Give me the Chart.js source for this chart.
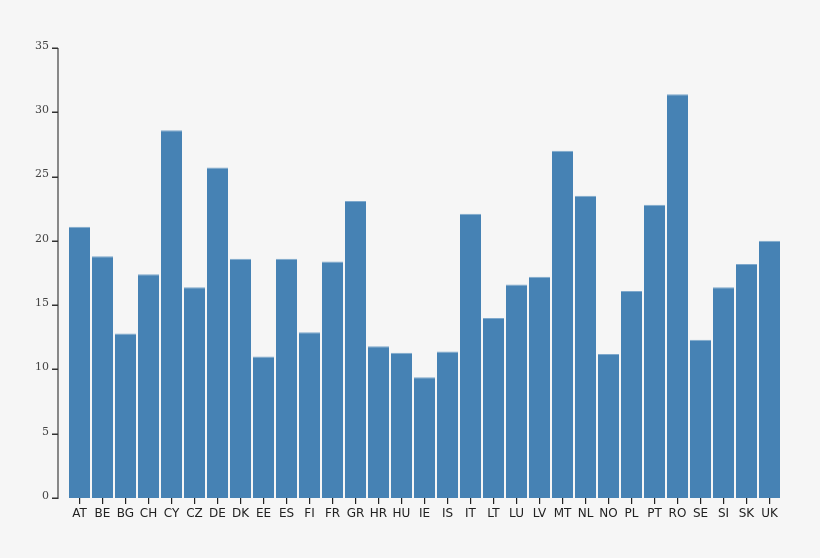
<!DOCTYPE html>
<html>
<head>
<meta charset="utf-8">
<script src="https://cdn.jsdelivr.net/npm/chart.js@4"></script>
<style>
  html, body { margin: 0; padding: 0; background: #f6f6f6; }
  #wrap { width: 820px; height: 558px; }
</style>
</head>
<body>
<div id="wrap"><canvas id="grafico" width="820" height="558"></canvas></div>
<script>
/* País e valor de cada barra */
const PAISES = ["AT", "BE", "BG", "CH", "CY", "CZ", "DE", "DK", "EE", "ES", "FI",
  "FR", "GR", "HR", "HU", "IE", "IS", "IT", "LT", "LU", "LV", "MT", "NL", "NO",
  "PL", "PT", "RO", "SE", "SI", "SK", "UK"];
const VALORES = [21.1, 18.8, 12.8, 17.4, 28.6, 16.4, 25.7, 18.6, 11.0, 18.6, 12.9,
  18.4, 23.1, 11.8, 11.3, 9.4, 11.4, 22.1, 14.0, 16.6, 17.2, 27.0, 23.5, 11.2,
  16.1, 22.8, 31.4, 12.3, 16.4, 18.2, 20.0];
const Y_TICKS = [0, 5, 10, 15, 20, 25, 30, 35];

const COR_BARRA = "#4682b4";

// eixo y desenhado à parte, um pouco afastado das barras
const eixoY = {
  id: "eixoY",
  afterDraw(chart) {
    const y = chart.scales.y;
    const ctx = chart.ctx;
    const x0 = chart.chartArea.left - 10;
    ctx.save();
    ctx.strokeStyle = "#888";
    ctx.lineWidth = 2;
    ctx.beginPath();
    ctx.moveTo(x0, y.getPixelForValue(35));
    ctx.lineTo(x0, y.getPixelForValue(0) + 1);
    ctx.stroke();
    ctx.strokeStyle = "#333";
    ctx.lineWidth = 1.5;
    Y_TICKS.forEach(v => {
      const py = Math.round(y.getPixelForValue(v)) + 0.25;
      ctx.beginPath();
      ctx.moveTo(x0 - 6, py);
      ctx.lineTo(x0, py);
      ctx.stroke();
    });
    ctx.restore();
  },
};

new Chart(document.getElementById("grafico"), {
  type: "bar",
  data: {
    labels: PAISES,
    datasets: [{
      data: VALORES,
      backgroundColor: COR_BARRA,
      borderColor: "#7ea8cc",
      borderWidth: { top: 1, left: 0, right: 0, bottom: 0 },
      borderSkipped: false,
      barPercentage: 21 / 23,
      categoryPercentage: 1,
    }],
  },
  options: {
    responsive: false,
    animation: false,
    layout: { padding: { top: 48, right: 39, bottom: 0, left: 0 } },
    plugins: { legend: { display: false }, tooltip: { enabled: false } },
    scales: {
      x: {
        offset: true,
        border: { display: false },
        grid: { offset: false, drawOnChartArea: false, drawTicks: true, tickLength: 6, color: "#222", lineWidth: 1.2 },
        ticks: { color: "#222", padding: 3, font: { family: "DejaVu Sans", size: 12 }, autoSkip: false, maxRotation: 0 },
        afterFit(s) { s.height = 60; },
      },
      y: {
        min: 0,
        max: 35,
        afterBuildTicks(s) { s.ticks = Y_TICKS.map(v => ({ value: v })); },
        border: { display: false },
        grid: { display: false, drawTicks: false },
        ticks: { color: "#444", padding: 19, labelOffset: -2, font: { family: "DejaVu Serif", size: 11 } },
        afterFit(s) { s.width = 68; },
      },
    },
  },
  plugins: [eixoY],
});
</script>
</body>
</html>
